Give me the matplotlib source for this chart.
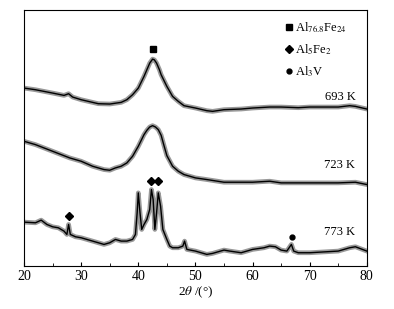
import matplotlib
matplotlib.use('Agg')
import matplotlib.pyplot as plt

plt.rcParams['font.family'] = ['Liberation Serif', 'DejaVu Serif']
plt.rcParams['mathtext.fontset'] = 'stix'

# 693 K
x693 = [20, 22, 25, 27, 27.8, 28.5, 30, 33, 35, 37, 38, 39, 40, 41, 41.5, 42, 42.5, 42.8,
        43.2, 43.7, 44, 45, 46, 47, 48, 50, 52, 53, 55, 58, 60, 63, 65, 68, 70, 73, 75, 77,
        78, 80]
y693 = [535, 530, 520, 513, 518, 508, 500, 488, 487, 492, 500, 515, 535, 570, 590, 610, 622,
        620, 610, 590, 575, 540, 510, 495, 482, 475, 467, 465, 470, 472, 475, 478, 478, 476,
        478, 478, 478, 482, 480, 472]

# 723 K
x723 = [20, 22, 25, 28, 30, 32, 34, 35, 36, 37, 38, 39, 40, 41, 41.5, 42, 42.5, 43, 43.5,
        44, 44.5, 45, 46, 47, 48, 50, 52, 55, 58, 60, 63, 65, 70, 75, 78, 80]
y723 = [375, 365, 345, 325, 315, 300, 290, 288, 295, 300, 310, 330, 360, 395, 408, 418, 422,
        418, 410, 393, 362, 332, 300, 285, 275, 265, 260, 252, 252, 252, 255, 250, 250, 250,
        252, 245]

# 773 K
x773 = [20, 22, 23, 24, 25, 26, 27, 27.5, 27.8, 28.1, 29, 30, 32, 34, 35, 36, 37, 38, 39,
        39.5, 39.8, 40, 40.3, 40.6, 41, 41.5, 42, 42.3, 42.6, 42.9, 43.2, 43.5, 43.9, 44.3,
        45, 45.5, 46, 47, 47.8, 48.1, 48.5, 50, 52, 53, 55, 56, 58, 60, 62, 63, 64, 65, 66,
        66.8, 67.2, 68, 70, 72, 75, 77, 78, 80]
y773 = [132, 130, 138, 125, 118, 115, 105, 95, 125, 95, 88, 85, 75, 65, 70, 80, 75, 75, 80,
        95, 160, 220, 160, 110, 125, 140, 170, 230, 200, 110, 160, 220, 180, 110,
        80, 60, 55, 55, 60, 75, 50, 45, 35, 38, 48, 45, 40, 50, 55, 60, 58, 48, 45,
        65, 45, 40, 40, 42, 45, 55, 58, 45]

# phase markers
al768_x, al768_y = [42.6], [653]
al5fe2_x, al5fe2_y = [27.8, 42.3, 43.5], [149, 255, 255]
al3v_x, al3v_y = [66.9], [87]

labels = ['693 K', '723 K', '773 K']
label_y = [509, 305, 101]

fig = plt.figure(figsize=(3.94, 3.09), dpi=100)
ax = fig.add_axes([0.061, 0.139, 0.87, 0.829])

for xs, ys in [(x693, y693), (x723, y723), (x773, y773)]:
    ax.plot(xs, ys, color='0.6', lw=3.4, solid_joinstyle='round')
    ax.plot(xs, ys, color='black', lw=1.0)

ax.plot(al768_x, al768_y, 's', color='black', ms=4.5, label='Al$_{76.8}$Fe$_{24}$')
ax.plot(al5fe2_x, al5fe2_y, 'D', color='black', ms=4.5, label='Al$_5$Fe$_2$')
ax.plot(al3v_x, al3v_y, 'o', color='black', ms=3.5, label='Al$_3$V')

for t, yy in zip(labels, label_y):
    ax.text(78, yy, t, ha='right', va='center', fontsize=9)

ax.legend(loc='upper right', bbox_to_anchor=(0.97, 1.0), frameon=False, fontsize=9,
          handlelength=0.6, handletextpad=0.2, labelspacing=0.6, borderpad=0.3)

ax.set_xlim(20, 80)
ax.set_ylim(0, 770)
ax.set_xticks([20, 30, 40, 50, 60, 70, 80])
ax.set_xticks([25, 35, 45, 55, 65, 75], minor=True)
ax.set_yticks([])
ax.tick_params(axis='x', direction='in', length=3, labelsize=10, pad=3)
ax.tick_params(axis='x', which='minor', direction='in', length=2)
ax.set_xlabel(r'2$\theta$ /(°)', fontsize=9.5, labelpad=1)

fig.savefig('out.png', dpi=100)
